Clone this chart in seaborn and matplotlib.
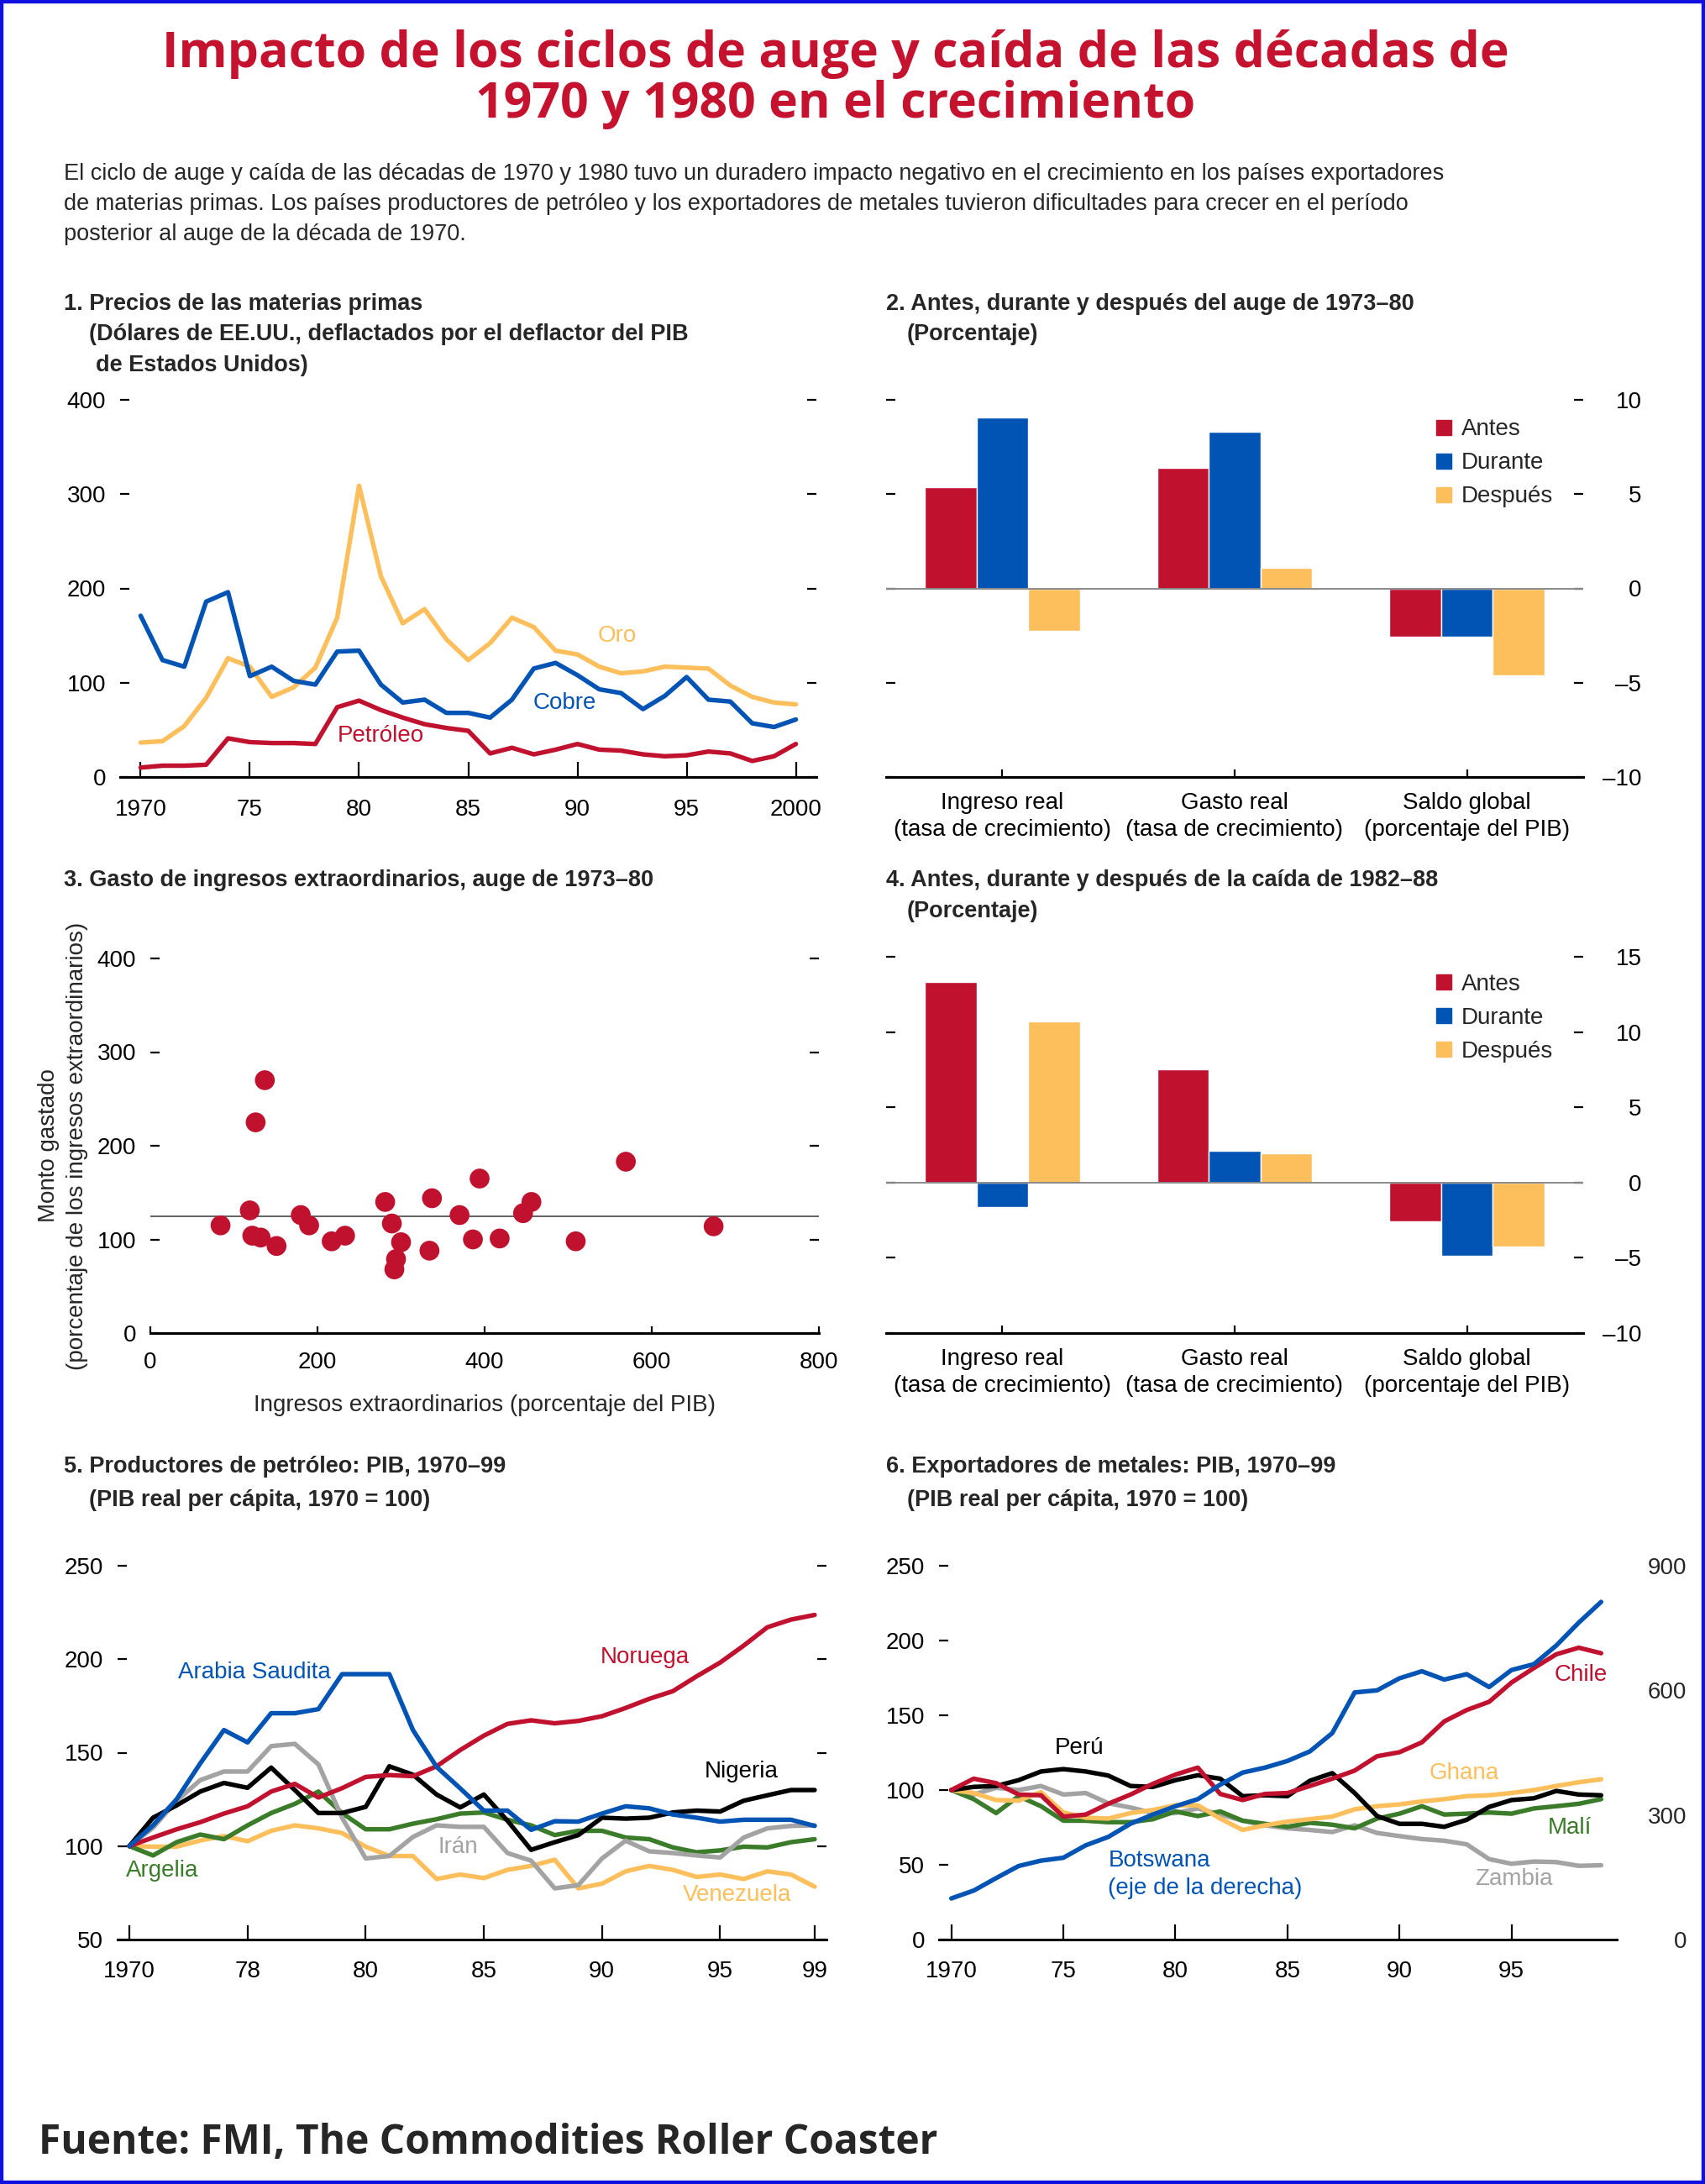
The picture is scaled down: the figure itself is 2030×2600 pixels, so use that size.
import numpy as np
import pandas as pd
import matplotlib
matplotlib.use("Agg")
import matplotlib.pyplot as plt
import seaborn as sns
from matplotlib import font_manager as fm
from matplotlib.lines import Line2D
from matplotlib.patches import Rectangle

# ---------------- DATA ----------------
years1 = list(range(1970, 2001))
oro = [36.5, 38, 54, 84, 126, 117, 85, 95, 116, 169, 309, 213, 163, 178, 146, 124,
       142, 169, 159, 134, 130, 117, 110, 112, 117, 116, 115, 97, 85, 79, 77]
cobre = [171, 124, 117, 186, 196, 107, 117, 102, 98, 133, 134, 98, 79, 82, 68, 68,
         63, 82, 115, 121, 108, 93, 89, 72, 86, 106, 82, 80, 57, 53, 61]
petroleo = [10, 12, 12, 13, 41, 37, 36, 36, 35, 74, 81, 71, 63, 56, 52, 49,
            25, 31, 24, 29, 35, 29, 28, 24, 22, 23, 27, 25, 17, 22, 35]
xticks1 = [1970, 1975, 1980, 1985, 1990, 1995, 2000]
xticklabels1 = ["1970", "75", "80", "85", "90", "95", "2000"]

categorias = ["Ingreso real\n(tasa de crecimiento)",
              "Gasto real\n(tasa de crecimiento)",
              "Saldo global\n(porcentaje del PIB)"]
periodos = ["Antes", "Durante", "Después"]
auge_antes = [5.35, 6.4, -2.55]
auge_durante = [9.05, 8.3, -2.55]
auge_despues = [-2.25, 1.1, -4.6]
caida_antes = [13.3, 7.55, -2.6]
caida_durante = [-1.65, 2.1, -4.85]
caida_despues = [10.7, 1.95, -4.25]

ingresos_extra = [84, 119, 122, 132, 126, 137, 151, 180, 190, 217, 233, 281, 289, 300,
                  294, 292, 334, 337, 370, 386, 394, 418, 446, 456, 509, 569, 674]
monto_gastado = [115, 131, 104, 102, 225, 270, 93, 126, 115, 98, 104, 140, 117, 97,
                 79, 68, 88, 144, 126, 100, 165, 101, 128, 140, 98, 183, 114]
linea_ref = 125

years2 = list(range(1970, 2000))
noruega = [100, 104.6, 109, 112.8, 117.4, 121.3, 129.2, 133.3, 126, 131, 137, 138, 137.4,
           142.7, 151.4, 159.1, 165.4, 167.3, 165.7, 167, 169.5, 173.9, 178.8, 182.9,
           190.8, 198.2, 207.3, 217.1, 221.2, 223.7]
arabia = [100, 111.1, 125.1, 144.3, 162.1, 155.5, 171.1, 171.1, 173.3, 192, 192, 192, 162.1,
          142.4, 130.9, 119, 119, 108.7, 113.3, 113.1, 117.4, 121.3, 120.2, 116.9, 115.2,
          113.1, 114.1, 114.1, 114.1, 110.8]
nigeria = [100, 115.2, 121.8, 129.2, 133.8, 131.2, 142, 130, 117.7, 117.7, 121, 142.7, 138.2,
           127.6, 120.7, 127.6, 113.6, 98, 102.1, 105.9, 115.2, 114.7, 115.2, 118, 119,
           118.5, 124.3, 127.2, 130, 130]
iran = [100, 109.8, 124.3, 135.3, 139.9, 139.9, 153.5, 154.7, 143.7, 115.2, 93.4, 94.7, 104.9,
        111.1, 110.3, 110.3, 96.3, 92.2, 77.4, 79.1, 93.4, 102.9, 97.2, 96.3, 95, 93.9,
        104.6, 109.5, 110.8, 111.1]
argelia = [100, 95, 102.1, 106.2, 103.7, 111.1, 117.7, 122.6, 129.2, 117.7, 109, 109, 112,
           114.4, 117.4, 118, 114.1, 111.1, 105.9, 108.2, 108.2, 104.6, 103.7, 99.3, 96.7,
           97.7, 99.7, 99.3, 102.1, 103.7]
venezuela = [100, 99.7, 99.7, 103, 105.4, 102.6, 108.2, 111.1, 109.5, 107, 99.7, 94.7, 94.7,
             82.4, 84.8, 82.9, 87.3, 89.4, 92.7, 77.4, 79.9, 86.5, 89.4, 87.3, 83.5, 84.8,
             82.4, 86.5, 84.8, 78.3]
xticks5 = [1970, 1975, 1980, 1985, 1990, 1995, 1999]
xticklabels5 = ["1970", "78", "80", "85", "90", "95", "99"]

chile = [100, 107.6, 104.6, 97, 96.5, 82.2, 83.6, 90.8, 97, 104.2, 110.3, 115, 97.4, 93.3,
         97.4, 98, 102.7, 107.6, 113, 122.6, 125.3, 131.9, 145.9, 153.5, 159, 171.9,
         181.6, 190.8, 195.2, 191.5]
peru = [100, 102.1, 102.7, 106.6, 112.4, 114, 112.4, 109.7, 102.7, 102.1, 106.6, 109.9, 107.6,
        95.9, 96.5, 95.9, 106.2, 111.3, 98, 82.6, 77.4, 77.4, 75.4, 80.1, 88.7, 93.3, 94.5,
        99.4, 97, 96.5]
ghana = [100, 98, 93.3, 92.9, 98.6, 85, 81.5, 80.9, 84.6, 86.7, 89.8, 89.8, 80.9, 73.3, 76.4,
         78.9, 80.5, 82.2, 87.1, 89.2, 90.4, 92.4, 93.9, 95.9, 96.5, 98, 100, 102.7, 105.2,
         107.2]
mali = [100, 93.9, 84.6, 95.9, 89.2, 79.5, 79.5, 78.5, 78.5, 80.5, 85.7, 82.6, 85.7, 79.5,
        77.4, 75.4, 78.1, 76.8, 74.4, 80.9, 84.2, 89.2, 83.6, 84.2, 85, 84.2, 87.7, 89.2,
        90.8, 93.9]
zambia = [100, 97, 101.5, 100, 102.7, 97, 98, 91.2, 88.3, 84.6, 84.6, 87.7, 83.6, 79.5, 76.4,
          74.4, 73.3, 71.9, 76.4, 71.3, 69.2, 67.2, 66.1, 63.7, 53.8, 50.7, 52.2, 51.8, 49.3,
          49.7]
botswana = [99, 118, 148, 177, 190, 197, 227, 247, 279, 301, 321, 338, 373, 402, 414, 430,
            453, 497, 595, 600, 629, 646, 626, 639, 608, 649, 663, 708, 763, 813]
xticks6 = [1970, 1975, 1980, 1985, 1990, 1995]
xticklabels6 = ["1970", "75", "80", "85", "90", "95"]

# ---------------- STYLE ----------------
RED = "#C0122F"
BLUE = "#0153B4"
YEL = "#FDBF5C"
GREEN = "#3B7C2A"
GRAY = "#A3A3A3"
BLACK = "#000000"

sns.set_theme(style="white")
names = {f.name for f in fm.fontManager.ttflist}
SANS = "Liberation Sans" if "Liberation Sans" in names else "DejaVu Sans"
TFONT = "Open Sans" if "Open Sans" in names else SANS
plt.rcParams["font.family"] = [SANS, "DejaVu Sans"]
plt.rcParams["axes.unicode_minus"] = False

W, H = 2030, 2600
fig = plt.figure(figsize=(W / 100, H / 100), dpi=100)
fig.patch.set_facecolor("white")


def rect(l, t, r, b):
    return [l / W, 1 - b / H, (r - l) / W, (b - t) / H]


def ftext(x, y, s, **kw):
    fig.text(x / W, 1 - y / H, s, **kw)


TICK_FS = 20
LAB_FS = 20


def style(ax, xpad=20, xlen=13, left_labels=True, right_labels=False, rpad=50):
    for s in ["left", "right", "top"]:
        ax.spines[s].set_visible(False)
    ax.spines["bottom"].set_visible(True)
    ax.spines["bottom"].set_color("black")
    ax.spines["bottom"].set_linewidth(2.2)
    ax.set_facecolor("white")
    ax.grid(False)
    ax.tick_params(axis="y", which="major", direction="in", length=8, width=1.6,
                   colors="black", left=True, right=True,
                   labelleft=left_labels, labelright=right_labels,
                   labelsize=TICK_FS, pad=12)
    if right_labels:
        ax.tick_params(axis="y", pad=rpad)
    ax.tick_params(axis="x", which="major", direction="in", length=xlen, width=1.6,
                   colors="black", bottom=True, top=False, labelsize=TICK_FS, pad=xpad)
    ax.set_xlabel("")
    ax.set_ylabel("")


# ---------------- TITLES ----------------
TSIZE = 42.5
ftext(995, 64, "Impacto de los ciclos de auge y caída de las décadas de",
      fontsize=TSIZE, fontweight="bold", color="#C4122F", family=TFONT,
      ha="center", va="center")
ftext(995, 125, "1970 y 1980 en el crecimiento",
      fontsize=TSIZE, fontweight="bold", color="#C4122F", family=TFONT,
      ha="center", va="center")
sub = ["El ciclo de auge y caída de las décadas de 1970 y 1980 tuvo un duradero impacto negativo en el crecimiento en los países exportadores",
       "de materias primas. Los países productores de petróleo y los exportadores de metales tuvieron dificultades para crecer en el período",
       "posterior al auge de la década de 1970."]
for i, line in enumerate(sub):
    ftext(76, 207 + i * 36, line, fontsize=19.5, ha="left", va="center")

ftext(46, 2551, "Fuente: FMI, The Commodities Roller Coaster", fontsize=34.5,
      fontweight="bold", family=TFONT, ha="left", va="center")

PT = 19.5
ftext(76, 362, "1. Precios de las materias primas", fontsize=PT, fontweight="bold", va="center")
ftext(106, 398, "(Dólares de EE.UU., deflactados por el deflactor del PIB", fontsize=PT, fontweight="bold", va="center")
ftext(114, 435, "de Estados Unidos)", fontsize=PT, fontweight="bold", va="center")
ftext(1055, 362, "2. Antes, durante y después del auge de 1973–80", fontsize=PT, fontweight="bold", va="center")
ftext(1080, 398, "(Porcentaje)", fontsize=PT, fontweight="bold", va="center")
ftext(76, 1048, "3. Gasto de ingresos extraordinarios, auge de 1973–80", fontsize=PT, fontweight="bold", va="center")
ftext(1055, 1048, "4. Antes, durante y después de la caída de 1982–88", fontsize=PT, fontweight="bold", va="center")
ftext(1080, 1085, "(Porcentaje)", fontsize=PT, fontweight="bold", va="center")
ftext(76, 1746, "5. Productores de petróleo: PIB, 1970–99", fontsize=PT, fontweight="bold", va="center")
ftext(106, 1786, "(PIB real per cápita, 1970 = 100)", fontsize=PT, fontweight="bold", va="center")
ftext(1055, 1746, "6. Exportadores de metales: PIB, 1970–99", fontsize=PT, fontweight="bold", va="center")
ftext(1080, 1786, "(PIB real per cápita, 1970 = 100)", fontsize=PT, fontweight="bold", va="center")

LW = 3.9

# ---------------- PANEL 1 ----------------
ax1 = fig.add_axes(rect(143, 476, 972, 925))
sns.lineplot(x=years1, y=oro, color=YEL, lw=LW, ax=ax1)
sns.lineplot(x=years1, y=cobre, color=BLUE, lw=LW, ax=ax1)
sns.lineplot(x=years1, y=petroleo, color=RED, lw=LW, ax=ax1)
ax1.set_xlim(1969.06, 2000.94)
ax1.set_ylim(0, 400)
ax1.set_yticks([0, 100, 200, 300, 400])
ax1.set_xticks(xticks1)
ax1.set_xticklabels(xticklabels1)
style(ax1, xpad=19, xlen=13)
ax1.text(1991.8, 150, "Oro", color=YEL, fontsize=LAB_FS, ha="center", va="center")
ax1.text(1989.4, 78, "Cobre", color=BLUE, fontsize=LAB_FS, ha="center", va="center")
ax1.text(1981.0, 44, "Petróleo", color=RED, fontsize=LAB_FS, ha="center", va="center")


# ---------------- BAR PANELS ----------------
def bar_panel(rect_px, antes, durante, despues, ylim, yticks, yticklabels, leg_pos):
    ax = fig.add_axes(rect(*rect_px))
    df = pd.DataFrame({
        "cat": categorias * 3,
        "periodo": [p for p in periodos for _ in categorias],
        "valor": antes + durante + despues,
    })
    sns.barplot(data=df, x="cat", y="valor", hue="periodo", hue_order=periodos,
                order=categorias, palette=[RED, BLUE, YEL], width=0.667, gap=0,
                saturation=1, errorbar=None, legend=False, ax=ax, zorder=2)
    ax.axhline(0, color="#8a8a8a", lw=1.4, zorder=3)
    ax.set_xlim(-0.5, 2.5)
    ax.set_ylim(*ylim)
    ax.set_yticks(yticks)
    ax.set_yticklabels(yticklabels)
    style(ax, xpad=13, xlen=6.5, left_labels=False, right_labels=True, rpad=50)
    for lab in ax.get_xticklabels():
        lab.set_fontsize(LAB_FS)
        lab.set_linespacing(1.3)
    for t in ax.yaxis.get_major_ticks():
        t.label2.set_horizontalalignment("right")
    handles = [Line2D([0], [0], marker="s", color="w", markerfacecolor=c,
                      markeredgecolor=c, markersize=13, linestyle="None")
               for c in [RED, BLUE, YEL]]
    ax.legend(handles, periodos, loc="upper left",
              bbox_to_anchor=leg_pos, frameon=False,
              fontsize=LAB_FS, handlelength=0.8, handletextpad=0.35,
              labelspacing=0.5, borderaxespad=0, borderpad=0)
    return ax


ax2 = bar_panel((1055, 476, 1885, 925), auge_antes, auge_durante, auge_despues,
                (-10, 10), [-10, -5, 0, 5, 10], ["–10", "–5", "0", "5", "10"],
                (0.787, 0.95))
ax4 = bar_panel((1055, 1139, 1885, 1587), caida_antes, caida_durante, caida_despues,
                (-10, 15), [-10, -5, 0, 5, 10, 15], ["–10", "–5", "0", "5", "10", "15"],
                (0.787, 0.955))

# ---------------- PANEL 3 ----------------
ax3 = fig.add_axes(rect(179, 1141, 975, 1587))
ax3.axhline(linea_ref, color="#555555", lw=1.3, zorder=1)
sns.scatterplot(x=ingresos_extra, y=monto_gastado, color=RED, s=290,
                edgecolor="none", linewidth=0, ax=ax3, zorder=3)
ax3.set_xlim(0, 800)
ax3.set_ylim(0, 400)
ax3.set_xticks([0, 200, 400, 600, 800])
ax3.set_yticks([0, 100, 200, 300, 400])
style(ax3, xpad=16, xlen=6)
ax3.set_xlabel("Ingresos extraordinarios (porcentaje del PIB)", fontsize=LAB_FS, labelpad=18)
ftext(58, 1364, "Monto gastado", fontsize=LAB_FS, rotation=90, ha="center", va="center")
ftext(92, 1364, "(porcentaje de los ingresos extraordinarios)", fontsize=LAB_FS,
      rotation=90, ha="center", va="center")

# ---------------- PANEL 5 ----------------
ax5 = fig.add_axes(rect(140, 1864, 984, 2309))
for vals, col in [(venezuela, YEL), (argelia, GREEN), (iran, GRAY),
                  (nigeria, BLACK), (noruega, RED), (arabia, BLUE)]:
    sns.lineplot(x=years2, y=vals, color=col, lw=LW, ax=ax5)
ax5.set_xlim(1969.5, 1999.5)
ax5.set_ylim(50, 250)
ax5.set_yticks([50, 100, 150, 200, 250])
ax5.set_xticks(xticks5)
ax5.set_xticklabels(xticklabels5)
style(ax5, xpad=18, xlen=12.5)
ax5.text(1975.3, 193, "Arabia Saudita", color=BLUE, fontsize=LAB_FS, ha="center", va="center")
ax5.text(1991.8, 201, "Noruega", color=RED, fontsize=LAB_FS, ha="center", va="center")
ax5.text(1995.9, 140, "Nigeria", color=BLACK, fontsize=LAB_FS, ha="center", va="center")
ax5.text(1983.9, 99.5, "Irán", color=GRAY, fontsize=LAB_FS, ha="center", va="center")
ax5.text(1971.4, 87, "Argelia", color=GREEN, fontsize=LAB_FS, ha="center", va="center")
ax5.text(1995.7, 74, "Venezuela", color=YEL, fontsize=LAB_FS, ha="center", va="center")

# ---------------- PANEL 6 ----------------
ax6 = fig.add_axes(rect(1118, 1864, 1925, 2309))
for vals, col in [(zambia, GRAY), (mali, GREEN), (ghana, YEL), (peru, BLACK), (chile, RED)]:
    sns.lineplot(x=years2, y=vals, color=col, lw=LW, ax=ax6)
ax6.set_xlim(1969.45, 1999.7)
ax6.set_ylim(0, 250)
ax6.set_yticks([0, 50, 100, 150, 200, 250])
ax6.set_xticks(xticks6)
ax6.set_xticklabels(xticklabels6)
style(ax6, xpad=18, xlen=13)
ax6b = ax6.twinx()
sns.lineplot(x=years2, y=botswana, color=BLUE, lw=LW, ax=ax6b)
ax6b.set_xlim(1969.45, 1999.7)
ax6b.set_ylim(0, 900)
ax6b.set_yticks([0, 300, 600, 900])
ax6b.set_yticklabels(["0", "300", "600", "900"])
for s in ["left", "right", "top", "bottom"]:
    ax6b.spines[s].set_visible(False)
ax6b.grid(False)
ax6b.set_ylabel("")
ax6b.tick_params(axis="y", length=0, labelsize=TICK_FS, pad=60, labelright=True)
for t in ax6b.yaxis.get_major_ticks():
    t.label2.set_horizontalalignment("right")
ax6.text(1975.7, 128, "Perú", color=BLACK, fontsize=LAB_FS, ha="center", va="center")
ax6.text(1998.1, 177, "Chile", color=RED, fontsize=LAB_FS, ha="center", va="center")
ax6.text(1992.9, 111, "Ghana", color=YEL, fontsize=LAB_FS, ha="center", va="center")
ax6.text(1997.6, 74.5, "Malí", color=GREEN, fontsize=LAB_FS, ha="center", va="center")
ax6.text(1995.1, 40.5, "Zambia", color=GRAY, fontsize=LAB_FS, ha="center", va="center")
ax6.text(1977.0, 43.5, "Botswana\n(eje de la derecha)", color=BLUE, fontsize=LAB_FS,
         ha="left", va="center", linespacing=1.35)

# ---------------- BORDER ----------------
fig.patches.append(Rectangle((0, 0), 1, 1, transform=fig.transFigure, fill=False,
                             edgecolor="#1010E0", lw=6, zorder=10))

fig.savefig("out.png", dpi=100, facecolor="white")
